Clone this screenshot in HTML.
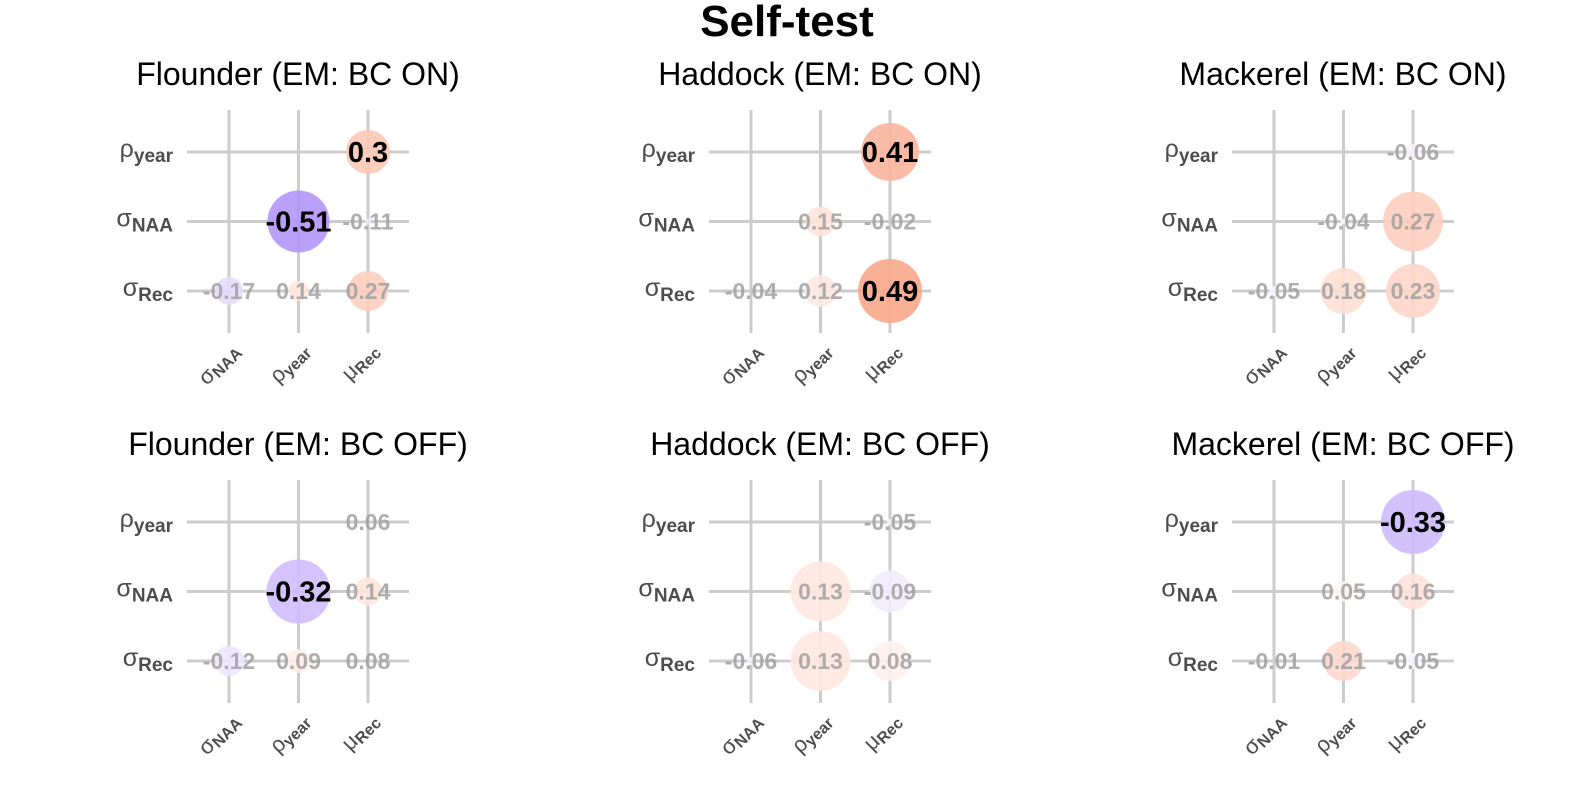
<!DOCTYPE html>
<html><head><meta charset="utf-8">
<style>
html,body{margin:0;padding:0;background:#fff;}
svg{display:block;font-family:"Liberation Sans",Arial,sans-serif;}
</style></head>
<body>
<svg id="chart" width="1574" height="787" viewBox="0 0 1574 787">
<text x="787" y="36" text-anchor="middle" font-size="44" font-weight="bold" fill="#000">Self-test</text>
</svg>
<script>
const panelTitles = ["Flounder (EM: BC ON)","Haddock (EM: BC ON)","Mackerel (EM: BC ON)","Flounder (EM: BC OFF)","Haddock (EM: BC OFF)","Mackerel (EM: BC OFF)"];
// cells per panel: [row(0=rho_year,1=sigma_NAA,2=sigma_Rec), col(0=sigma_NAA,1=rho_year,2=mu_Rec)]
const cellRows = [0,1,1,2,2,2];
const cellCols = [2,1,2,0,1,2];
const corrValues = [
  [0.3,-0.51,-0.11,-0.17,0.14,0.27],
  [0.41,0.15,-0.02,-0.04,0.12,0.49],
  [-0.06,-0.04,0.27,-0.05,0.18,0.23],
  [0.06,-0.32,0.14,-0.12,0.09,0.08],
  [-0.05,0.13,-0.09,-0.06,0.13,0.08],
  [-0.33,0.05,0.16,-0.01,0.21,-0.05]
];
const circleSizes = [
  [22,31,3,14,10,20],
  [29,15,0,0,16,32],
  [8,3,30,5,23,27],
  [0,32,14,15,12,0],
  [3,30,21,4,30,20],
  [32,10,18,0,20,8]
];
const rowLabels = [["ρ","year"],["σ","NAA"],["σ","Rec"]];
const colLabels = [["σ","NAA"],["ρ","year"],["μ","Rec"]];

const svg = document.getElementById('chart');
const NS = "http://www.w3.org/2000/svg";
function mk(tag, attrs){const e=document.createElementNS(NS,tag);for(const k in attrs)e.setAttribute(k,attrs[k]);return e;}
const panelX = [0,522,1045];
const panelY = [0,370];
const colX = c => 229 + c*69.5;
const rowY = r => 152 + r*69.5;
function fillFor(v){
  const t=Math.min(Math.abs(v)/0.5,1);
  const end = v>=0 ? [250,165,135] : [180,150,250];
  const c = end.map(e=>Math.round(255+(e-255)*t));
  return `rgb(${c[0]},${c[1]},${c[2]})`;
}
for(let p=0;p<6;p++){
  const ox = panelX[p%3], oy = panelY[Math.floor(p/3)];
  const g = mk('g',{transform:`translate(${ox},${oy})`});
  
  
  svg.appendChild(g);
  const title = mk('text',{x:298,y:85,'text-anchor':'middle','font-size':'32',fill:'#000'});
  title.textContent = panelTitles[p];
  
  
  g.appendChild(title);
  for(let i=0;i<3;i++){
    const vl = mk('line',{x1:colX(i),x2:colX(i),y1:110,y2:333,stroke:'#cccccc','stroke-width':3});
    
    
    g.appendChild(vl);
    const hl = mk('line',{x1:187,x2:409,y1:rowY(i),y2:rowY(i),stroke:'#cccccc','stroke-width':3});
    
    
    g.appendChild(hl);
    const yl = mk('text',{x:173,y:rowY(i)+5,'text-anchor':'end','font-size':'25',fill:'#4d4d4d'});
    yl.innerHTML = `${rowLabels[i][0]}<tspan dy="5" font-size="19" font-weight="bold">${rowLabels[i][1]}</tspan>`;
    
    
    g.appendChild(yl);
    const xl = mk('text',{x:0,y:0,'text-anchor':'end','font-size':'22',fill:'#4d4d4d',transform:`translate(${colX(i)+12},${352}) rotate(-45)`});
    xl.innerHTML = `${colLabels[i][0]}<tspan dy="3" font-size="16" font-weight="bold">${colLabels[i][1]}</tspan>`;
    
    
    g.appendChild(xl);
  }
  for(let k=0;k<cellRows.length;k++){
    const v = corrValues[p][k], cx=colX(cellCols[k]), cy=rowY(cellRows[k]);
    const r = circleSizes[p][k];
    if(r>0){
      const c = mk('circle',{cx:cx,cy:cy,r:r,fill:fillFor(v),'fill-opacity':0.9});
      
      
      g.appendChild(c);
    }
    const strong = Math.abs(v)>=0.3;
    const t = mk('text',{x:cx,y:cy+(strong?10:8),'text-anchor':'middle','font-size':strong?'29':'23','font-weight':'bold',fill:strong?'#000':'#a0a0a0','fill-opacity':strong?1:0.85});
    t.textContent = String(v);
    
    
    g.appendChild(t);
  }
}
</script>
</body></html>
